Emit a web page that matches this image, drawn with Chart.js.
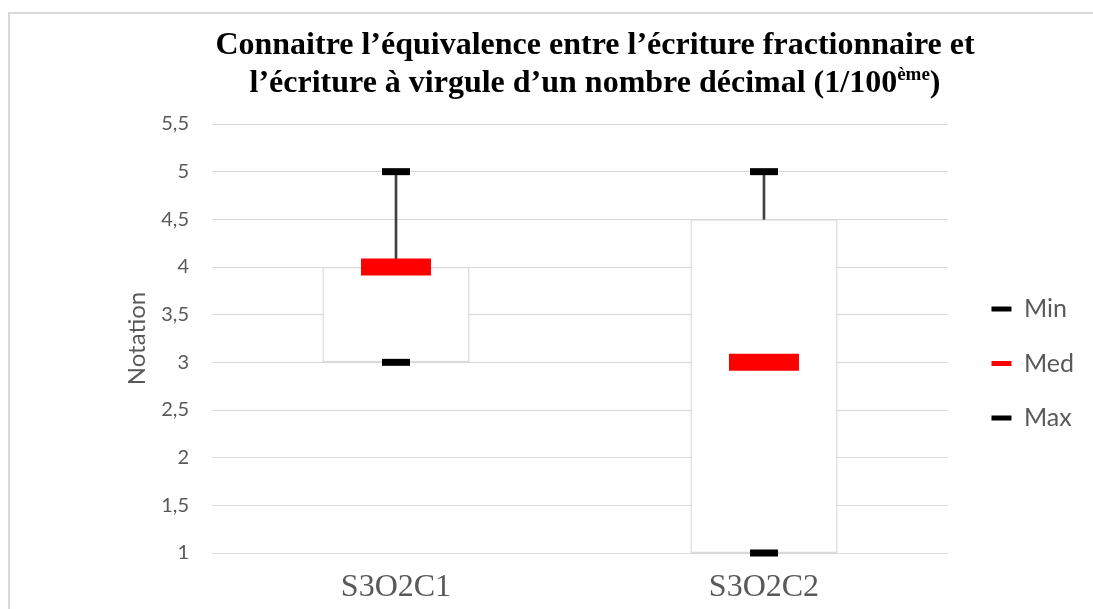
<!DOCTYPE html>
<html>
<head>
<meta charset="utf-8">
<script src="https://cdn.jsdelivr.net/npm/chart.js@4"></script>
<style>
  html, body { margin: 0; padding: 0; background: #fff; overflow: hidden; }
  #frame { position: absolute; left: 8px; top: 12px; width: 1200px; height: 700px; border: 2px solid #d9d9d9; }
  #wrap { position: absolute; left: 0; top: 0; width: 1093px; height: 609px; }
</style>
</head>
<body>
<div id="frame"></div>
<div id="wrap"><canvas id="box-chart" width="1093" height="609"></canvas></div>
<script>
const categories = ['S3O2C1', 'S3O2C2'];
const minValues = [3, 1];
const medValues = [4, 3];
const maxValues = [5, 5];
const boxLow = [3, 1];
const boxHigh = [4, 4.5];
const yTicks = [1, 1.5, 2, 2.5, 3, 3.5, 4, 4.5, 5, 5.5];

// title, second line carries a superscript piece
const titleLine1 = [{ t: 'Connaitre l\u2019équivalence entre l\u2019écriture fractionnaire et' }];
const titleLine2 = [{ t: 'l\u2019écriture à virgule d\u2019un nombre décimal (1/100' }, { t: 'ème', sup: true }, { t: ')' }];

const grey = '#595959';
const gridGrey = '#d9d9d9';

const titlePlugin = {
    id: 'richTitle',
    afterDraw(chart) {
        const ctx = chart.ctx;
        const size = 32;
        const cx = 595;
        const lines = [[titleLine1, 54], [titleLine2, 92]];
        ctx.save();
        ctx.fillStyle = '#000';
        ctx.textBaseline = 'alphabetic';
        ctx.textAlign = 'left';
        lines.forEach(([segs, baseline]) => {
            let w = 0;
            segs.forEach(s => {
                ctx.font = 'bold ' + (s.sup ? Math.round(size * 0.6) : size) + 'px "Liberation Serif"';
                s.w = ctx.measureText(s.t).width;
                w += s.w;
            });
            let x = cx - w / 2;
            segs.forEach(s => {
                ctx.font = 'bold ' + (s.sup ? Math.round(size * 0.6) : size) + 'px "Liberation Serif"';
                ctx.fillText(s.t, x, s.sup ? baseline - size * 0.36 : baseline);
                x += s.w;
            });
        });
        ctx.restore();
    }
};

// legend sits a little further right than chart.js puts it
const legendNudge = {
    id: 'legendNudge',
    afterLayout(chart) {
        const l = chart.legend;
        l.left += 14; l.right += 14;
        l.top -= 3; l.bottom -= 3;
    }
};

const ctx = document.getElementById('box-chart').getContext('2d');

const chart = new Chart(ctx, {
    type: 'bar',
    data: {
        labels: categories,
        datasets: [
            {
                // box
                data: categories.map((c, i) => [boxLow[i], boxHigh[i]]),
                backgroundColor: '#ffffff',
                borderColor: gridGrey,
                borderWidth: 1.5,
                borderSkipped: false,
                grouped: false,
                barPercentage: 1,
                categoryPercentage: 0.4,
                order: 5
            },
            {
                // whisker up to max
                data: categories.map((c, i) => [boxHigh[i], maxValues[i]]),
                backgroundColor: '#404040',
                borderWidth: 0,
                grouped: false,
                barThickness: 2,
                order: 4
            },
            {
                type: 'line',
                label: 'Min',
                data: minValues,
                showLine: false,
                clip: false,
                pointStyle: 'line',
                pointRadius: 14,
                pointHoverRadius: 14,
                pointBorderWidth: 7,
                pointHoverBorderWidth: 7,
                pointBorderColor: '#000000',
                order: 1
            },
            {
                type: 'line',
                label: 'Med',
                data: medValues,
                showLine: false,
                clip: false,
                pointStyle: 'line',
                pointRadius: 35,
                pointHoverRadius: 35,
                pointBorderWidth: 17,
                pointHoverBorderWidth: 17,
                pointBorderColor: '#ff0000',
                order: 2
            },
            {
                type: 'line',
                label: 'Max',
                data: maxValues,
                showLine: false,
                clip: false,
                pointStyle: 'line',
                pointRadius: 14,
                pointHoverRadius: 14,
                pointBorderWidth: 7,
                pointHoverBorderWidth: 7,
                pointBorderColor: '#000000',
                order: 1
            }
        ]
    },
    options: {
        responsive: false,
        animation: false,
        layout: { padding: { left: 113, top: 124, right: 23, bottom: 0 } },
        plugins: {
            tooltip: { enabled: false },
            title: { display: false },
            legend: {
                position: 'right',
                labels: {
                    boxWidth: 20,
                    boxHeight: 5,
                    padding: 29.5,
                    color: grey,
                    font: { family: 'Lato', size: 25 },
                    generateLabels: (ch) => ch.data.datasets
                        .map((ds, i) => ({
                            text: ds.label,
                            fillStyle: ds.pointBorderColor,
                            strokeStyle: ds.pointBorderColor,
                            lineWidth: 0,
                            fontColor: grey,
                            hidden: false,
                            datasetIndex: i
                        }))
                        .filter(item => item.text)
                }
            }
        },
        scales: {
            x: {
                offset: true,
                grid: { display: false },
                border: { display: false },
                ticks: {
                    color: grey,
                    padding: 7,
                    font: { family: 'Liberation Serif', size: 32 }
                },
                afterFit: (scale) => { scale.height = 56; }
            },
            y: {
                min: 1,
                max: 5.5,
                afterBuildTicks: (scale) => { scale.ticks = yTicks.map(v => ({ value: v })); },
                grid: { color: gridGrey, lineWidth: 1, drawTicks: false },
                border: { display: false },
                ticks: {
                    color: grey,
                    padding: 23,
                    font: { family: 'Lato', size: 20 },
                    callback: (v) => String(v).replace('.', ',')
                },
                title: {
                    display: true,
                    text: 'Notation',
                    color: grey,
                    font: { family: 'Lato', size: 24 },
                    padding: { top: 10, bottom: 0 }
                },
                afterFit: (scale) => { scale.width = 99; }
            }
        }
    },
    plugins: [titlePlugin, legendNudge]
});
</script>
</body>
</html>
